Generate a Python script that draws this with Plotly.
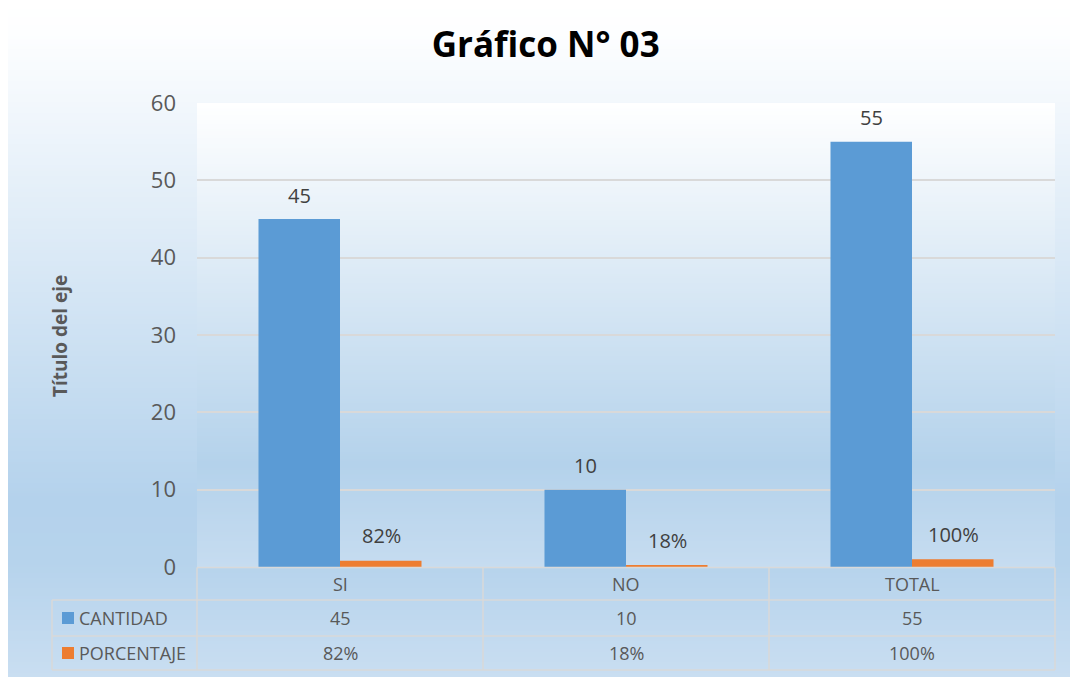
import base64
import struct
import zlib

import plotly.graph_objects as go

# data
categories = ["SI", "NO", "TOTAL"]
cantidad = [45, 10, 55]
porcentaje = [0.82, 0.18, 1.00]
series_names = ["CANTIDAD", "PORCENTAJE"]
series_colors = ["#5B9BD5", "#ED7D31"]

W, H = 1070, 677
L, R, T, B = 197, 1055, 103, 567  # plot area in pixels
FONT = "Open Sans"


def px_x(px):
    return (px - L) / (R - L)


def px_y(py):
    return (B - py) / (B - T)


def gradient_uri(stops, n=256):
    """Build a 1 x n vertical gradient png as a data uri."""
    rows = []
    for i in range(n):
        f = i / (n - 1)
        for (f0, c0), (f1, c1) in zip(stops[:-1], stops[1:]):
            if f0 <= f <= f1:
                t = (f - f0) / (f1 - f0) if f1 > f0 else 0
                rgb = [round(a + (b - a) * t) for a, b in zip(c0, c1)]
                break
        rows.append(b"\x00" + bytes(rgb))

    def chunk(tag, data):
        return struct.pack(">I", len(data)) + tag + data + struct.pack(">I", zlib.crc32(tag + data) & 0xffffffff)

    png = (b"\x89PNG\r\n\x1a\n"
           + chunk(b"IHDR", struct.pack(">IIBBBBB", 1, n, 8, 2, 0, 0, 0))
           + chunk(b"IDAT", zlib.compress(b"".join(rows)))
           + chunk(b"IEND", b""))
    return "data:image/png;base64," + base64.b64encode(png).decode()


outer_grad = gradient_uri([(0.0, (255, 255, 255)), (0.05, (253, 254, 255)),
                           (0.74, (180, 210, 236)), (0.83, (182, 211, 236)),
                           (1.0, (201, 222, 241))])
plot_grad = gradient_uri([(0.0, (255, 255, 255)), (0.78, (180, 210, 235)),
                          (1.0, (198, 220, 240))])

fig = go.Figure()
fig.add_trace(go.Bar(x=categories, y=cantidad, name=series_names[0],
                     marker=dict(color=series_colors[0], line=dict(width=0))))
fig.add_trace(go.Bar(x=categories, y=porcentaje, name=series_names[1],
                     marker=dict(color=series_colors[1], line=dict(width=0))))

annotations = []
label_font = dict(size=20, color="#404040")
table_font = dict(size=18, color="#595959")
# data labels above bars
for cat, v, p in zip(categories, cantidad, porcentaje):
    annotations.append(dict(x=cat, y=v, xref="x", yref="y", text=str(v), showarrow=False,
                            xshift=-41, yshift=24, yanchor="middle", font=label_font))
    annotations.append(dict(x=cat, y=p, xref="x", yref="y", text=f"{round(p * 100)}%", showarrow=False,
                            xshift=41, yshift=25, yanchor="middle", font=label_font))

# data table text
for cat, v, p in zip(categories, cantidad, porcentaje):
    for row_y, txt in [(584, cat), (618, str(v)), (653, f"{round(p * 100)}%")]:
        annotations.append(dict(x=cat, y=px_y(row_y), xref="x", yref="paper", text=txt, showarrow=False,
                                xanchor="center", yanchor="middle", font=table_font))

shapes = []
grid = "#D9D9D9"
for name, color, row_y in zip(series_names, series_colors, [618, 653]):
    shapes.append(dict(type="rect", xref="paper", yref="paper", x0=px_x(62), x1=px_x(74),
                       y0=px_y(row_y - 6), y1=px_y(row_y + 6), fillcolor=color, line=dict(width=0)))
    annotations.append(dict(x=px_x(77), y=px_y(row_y), xref="paper", yref="paper", text=name,
                            showarrow=False, xanchor="left", yanchor="middle", font=table_font))

# table grid lines
for yy, x0 in [(567.5, L), (600, 52), (636, 52), (670, 52)]:
    shapes.append(dict(type="line", xref="paper", yref="paper", x0=px_x(x0), x1=px_x(R),
                       y0=px_y(yy), y1=px_y(yy), line=dict(color=grid, width=1.5)))
for xx in [L, 483, 769, R]:
    shapes.append(dict(type="line", xref="paper", yref="paper", x0=px_x(xx), x1=px_x(xx),
                       y0=px_y(567.5), y1=px_y(670), line=dict(color=grid, width=1.5)))
shapes.append(dict(type="line", xref="paper", yref="paper", x0=px_x(52), x1=px_x(52),
                   y0=px_y(600), y1=px_y(670), line=dict(color=grid, width=1.5)))

# axis title
annotations.append(dict(x=px_x(60), y=px_y(336), xref="paper", yref="paper", text="<b>Título del eje</b>",
                        textangle=-90, showarrow=False, xanchor="center", yanchor="middle",
                        font=dict(size=19, color="#595959")))

images = [
    dict(source=outer_grad, xref="paper", yref="paper", x=px_x(8), y=px_y(0),
         sizex=px_x(W) - px_x(8), sizey=px_y(0) - px_y(H), sizing="stretch",
         xanchor="left", yanchor="top", layer="below"),
    dict(source=plot_grad, xref="paper", yref="paper", x=0, y=1,
         sizex=1, sizey=1, sizing="stretch", xanchor="left", yanchor="top", layer="below"),
]

fig.update_layout(
    width=W, height=H,
    margin=dict(l=L, r=W - R, t=T, b=H - B),
    paper_bgcolor="white", plot_bgcolor="rgba(0,0,0,0)",
    font=dict(family=FONT),
    title=dict(text="<b>Gráfico N° 03</b>", x=0.51, xanchor="center", y=1 - 45 / H, yanchor="middle",
               font=dict(size=35, color="#000000", family=FONT)),
    barmode="group", bargap=0.43, bargroupgap=0,
    showlegend=False,
    annotations=annotations, shapes=shapes, images=images,
)
fig.update_xaxes(showticklabels=False, showgrid=False, zeroline=False, showline=False)
fig.update_yaxes(range=[0, 60], dtick=10, showgrid=True, gridcolor=grid, gridwidth=1.5,
                 zeroline=False, showline=False, ticklabelstandoff=20,
                 tickfont=dict(size=22, color="#595959"))

# drop the default page margin so the chart sits at the window corner
fig.write_html("out.html", config={"displayModeBar": False},
               post_script="document.body.style.margin='0';")
